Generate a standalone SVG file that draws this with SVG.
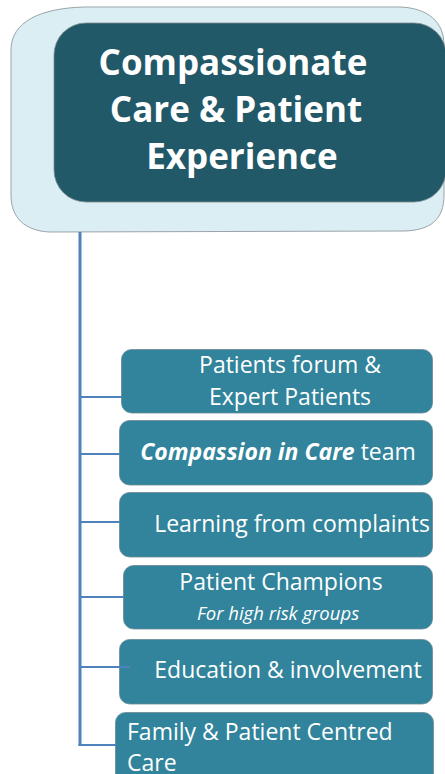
<svg xmlns="http://www.w3.org/2000/svg" width="445" height="774" viewBox="0 0 445 774">
<style>
.outer{fill:#DBEEF4;stroke:#9AA4A8;stroke-width:1}
.inner{fill:#215968;stroke:#7F8C90;stroke-width:0.8}
.box{fill:#31849B;stroke:#6B8A94;stroke-width:0.8}
.title{font-family:"Open Sans","DejaVu Sans",sans-serif;font-weight:bold;font-size:35px;fill:#FFFFFF;text-anchor:middle}
.lbl{font-family:"Open Sans","DejaVu Sans",sans-serif;font-size:23px;fill:#FFFFFF;text-anchor:middle}
.sub{font-family:"Open Sans","DejaVu Sans",sans-serif;font-size:18.5px;font-style:italic;fill:#FFFFFF;text-anchor:middle}
.conn{stroke:#4F81BD;fill:none}
</style>
<rect width="445" height="774" fill="#FFFFFF"/>
<g id="root">
<path class="outer" d="M 11,50 C 11,22 40,8 85,7 L 400,7 C 428,8 444,22 444,45 L 444,195 C 444,220 430,230 405,231 L 50,232 C 25,231 11,218 11,195 Z"/>
<rect class="inner" x="54" y="23" width="392" height="179" rx="32" ry="32"/>
<text class="title" x="233" y="75">Compassionate</text>
<text class="title" x="236" y="122">Care &amp; Patient</text>
<text class="title" x="242" y="169">Experience</text>
</g>
<g id="n1">
<rect class="box" x="121.5" y="349.5" width="311" height="63.5" rx="10"/>
<text class="lbl" x="290" y="373">Patients forum &amp;</text>
<text class="lbl" x="290" y="405">Expert Patients</text>
</g>
<g id="n2">
<rect class="box" x="119.5" y="420.5" width="313" height="64.5" rx="10"/>
<text class="lbl" x="278" y="460"><tspan font-weight="bold" font-style="italic">Compassion in Care</tspan> team</text>
</g>
<g id="n3">
<rect class="box" x="119.5" y="492.5" width="313" height="64.5" rx="10"/>
<text class="lbl" x="292" y="532">Learning from complaints</text>
</g>
<g id="n4">
<rect class="box" x="123.5" y="565.5" width="309" height="63.5" rx="10"/>
<text class="lbl" x="281" y="590">Patient Champions</text>
<text class="sub" x="278" y="620">For high risk groups</text>
</g>
<g id="n5">
<rect class="box" x="119.5" y="639.5" width="313" height="64.5" rx="10"/>
<text class="lbl" x="288" y="678">Education &amp; involvement</text>
</g>
<g id="n6">
<rect class="box" x="115.5" y="712.5" width="318" height="80" rx="10"/>
<text class="lbl" x="127" y="740" style="text-anchor:start">Family &amp; Patient Centred</text>
<text class="lbl" x="127" y="771" style="text-anchor:start">Care</text>
</g>
<g id="connectors">
<line class="conn" x1="80" y1="232" x2="80" y2="746" stroke-width="3"/>
<line class="conn" x1="80" y1="397" x2="122" y2="397" stroke-width="2"/>
<line class="conn" x1="80" y1="454" x2="120" y2="454" stroke-width="2"/>
<line class="conn" x1="80" y1="522" x2="120" y2="522" stroke-width="2"/>
<line class="conn" x1="80" y1="597" x2="124" y2="597" stroke-width="2"/>
<line class="conn" x1="80" y1="667" x2="130" y2="667" stroke-width="2"/>
<line class="conn" x1="78.5" y1="745" x2="116" y2="745" stroke-width="2"/>
</g>
</svg>
